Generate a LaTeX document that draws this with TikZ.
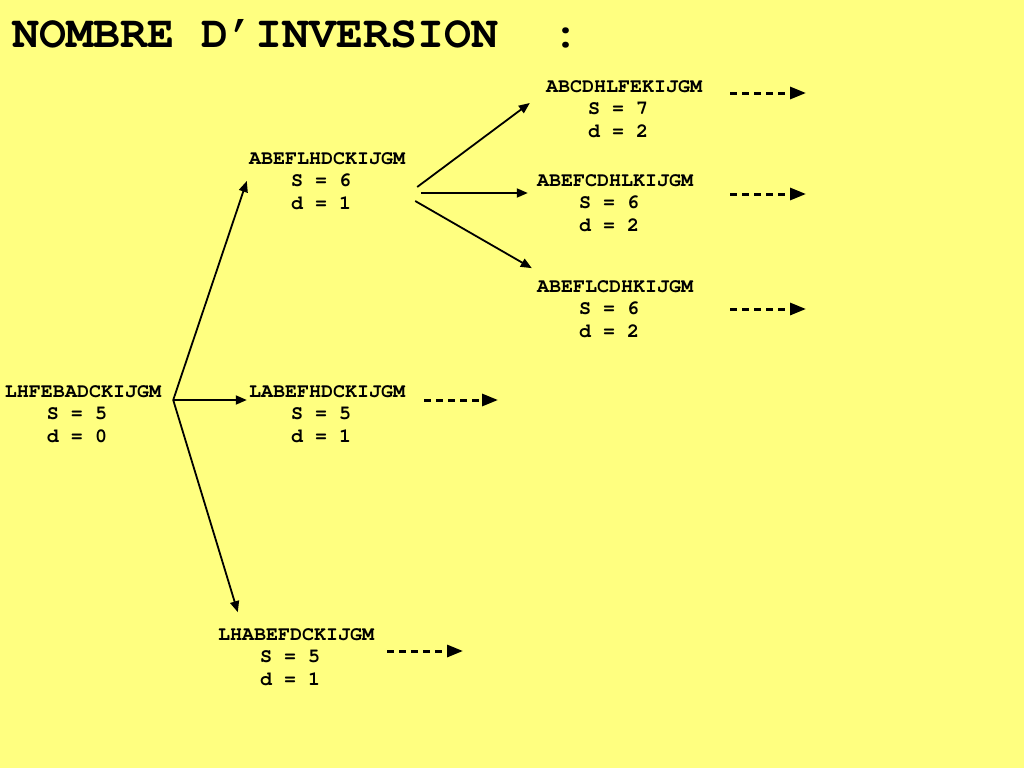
\documentclass[tikz,border=0pt]{standalone}
\usepackage[T1]{fontenc}
\renewcommand{\ttdefault}{pcr}
\usetikzlibrary{arrows.meta, positioning}
\definecolor{paper}{HTML}{FFFF80}
\tikzset{
	>={Triangle[length=11pt,width=9pt]},
	perm/.style={font=\ttfamily\bfseries\fontsize{20}{22.5}\selectfont, align=center, inner sep=2pt},
	move/.style={->, line width=1.8pt},
	more/.style={->, line width=3pt, dash pattern=on 7pt off 5pt, >={Triangle[length=16pt,width=12pt]}}}

\begin{document}
\begin{tikzpicture}[x=1pt, y=-1pt]
		
		\fill[paper] (0,0) rectangle (1024,768);
		\node[anchor=base west, inner sep=0pt, font=\ttfamily\bfseries\fontsize{45}{50}\selectfont] (title) at (12,48) {NOMBRE D'INVERSION\ \ :};
		
		\node[perm] (n0) at (83,414) {LHFEBADCKIJGM\\S = 5\hphantom{0}\\d = 0\hphantom{0}};
		\node[perm] (n1) at (327,181) {ABEFLHDCKIJGM\\S = 6\hphantom{0}\\d = 1\hphantom{0}};
		\node[perm] (n2) at (327,414) {LABEFHDCKIJGM\\S = 5\hphantom{0}\\d = 1\hphantom{0}};
		\node[perm] (n3) at (296,657) {LHABEFDCKIJGM\\S = 5\hphantom{0}\\d = 1\hphantom{0}};
		
		\node[perm] (n4) at (624,109) {ABCDHLFEKIJGM\\S = 7\hphantom{0}\\d = 2\hphantom{0}};
		\node[perm] (n5) at (615,203) {ABEFCDHLKIJGM\\S = 6\hphantom{0}\\d = 2\hphantom{0}};
		\node[perm] (n6) at (615,309) {ABEFLCDHKIJGM\\S = 6\hphantom{0}\\d = 2\hphantom{0}};
		
		% fork points
		\coordinate (f0) at ([xshift=10pt,yshift=14pt]n0.east);
		
		\draw[move] (f0) -- (n1.west);
		\draw[move] (f0) -- (n2.west |- f0);
		\draw[move] (f0) -- ([xshift=22pt,yshift=14pt]n3.north west);
		
		\draw[move] ([xshift=10pt,yshift=-6pt]n1.east) -- ([xshift=-14pt,yshift=6pt]n4.west);
		\draw[move] ([xshift=14pt,yshift=-12pt]n1.east) -- ([xshift=-7pt]n5.west |- 0,193);
		\draw[move] ([xshift=8pt,yshift=-20pt]n1.east) -- ([xshift=-3pt,yshift=10pt]n6.north west);
		
		% open branches
		\coordinate (s4) at (730,93);  \coordinate (e4) at (806,93);
		\coordinate (s5) at (730,194); \coordinate (e5) at (806,194);
		\coordinate (s6) at (730,309); \coordinate (e6) at (806,309);
		\coordinate (s2) at (424,400); \coordinate (e2) at (498,400);
		\coordinate (s3) at (387,651); \coordinate (e3) at (463,651);
		\foreach \k in {2,3,4,5,6}
			\draw[more] (s\k) -- (e\k);
		
	\end{tikzpicture}
\end{document}
